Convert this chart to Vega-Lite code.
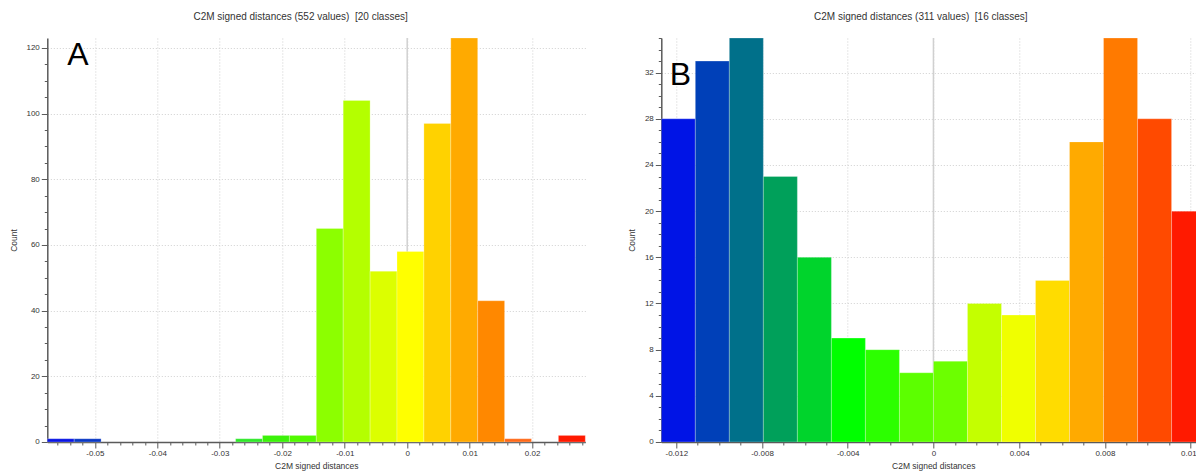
{
  "$schema": "https://vega.github.io/schema/vega-lite/v6.json",
  "background": "white",
  "padding": {"left": 8.3, "top": 12, "right": 0, "bottom": 0},
  "spacing": 41,
  "config": {
    "view": {"stroke": null},
    "font": "Liberation Sans",
    "axis": {
      "domainColor": "#5a5a5a", "domainWidth": 1.5,
      "tickColor": "#5a5a5a", "tickWidth": 1,
      "labelFont": "Liberation Sans", "labelFontSize": 8, "labelColor": "#333333",
      "titleFont": "Liberation Sans", "titleFontSize": 8.5, "titleFontWeight": "normal", "titleColor": "#333333",
      "gridColor": "#d0d0d0", "gridDash": [1, 2], "gridWidth": 1,
      "labelOverlap": false, "labelFlush": false, "labelPadding": 2
    },
    "title": {"font": "Liberation Sans", "fontSize": 10, "fontWeight": "normal", "color": "#333333", "offset": 15, "frame": "group", "anchor": "middle"}
  },
  "datasets": {
    "A": [
      {"bin": 0, "x0": -0.057616, "x1": -0.05331, "count": 1},
      {"bin": 1, "x0": -0.05331, "x1": -0.049003, "count": 1},
      {"bin": 7, "x0": -0.02747, "x1": -0.023164, "count": 1},
      {"bin": 8, "x0": -0.023164, "x1": -0.018858, "count": 2},
      {"bin": 9, "x0": -0.018858, "x1": -0.014551, "count": 2},
      {"bin": 10, "x0": -0.014551, "x1": -0.010245, "count": 65},
      {"bin": 11, "x0": -0.010245, "x1": -0.005938, "count": 104},
      {"bin": 12, "x0": -0.005938, "x1": -0.001632, "count": 52},
      {"bin": 13, "x0": -0.001632, "x1": 0.002675, "count": 58},
      {"bin": 14, "x0": 0.002675, "x1": 0.006982, "count": 97},
      {"bin": 15, "x0": 0.006982, "x1": 0.011288, "count": 123},
      {"bin": 16, "x0": 0.011288, "x1": 0.015595, "count": 43},
      {"bin": 17, "x0": 0.015595, "x1": 0.019901, "count": 1},
      {"bin": 19, "x0": 0.024208, "x1": 0.028514, "count": 2}
    ],
    "B": [
      {"bin": 0, "x0": -0.0127, "x1": -0.0111125, "count": 28},
      {"bin": 1, "x0": -0.0111125, "x1": -0.009525, "count": 33},
      {"bin": 2, "x0": -0.009525, "x1": -0.0079375, "count": 35},
      {"bin": 3, "x0": -0.0079375, "x1": -0.00635, "count": 23},
      {"bin": 4, "x0": -0.00635, "x1": -0.0047625, "count": 16},
      {"bin": 5, "x0": -0.0047625, "x1": -0.003175, "count": 9},
      {"bin": 6, "x0": -0.003175, "x1": -0.0015875, "count": 8},
      {"bin": 7, "x0": -0.0015875, "x1": 0, "count": 6},
      {"bin": 8, "x0": 0, "x1": 0.0015875, "count": 7},
      {"bin": 9, "x0": 0.0015875, "x1": 0.003175, "count": 12},
      {"bin": 10, "x0": 0.003175, "x1": 0.0047625, "count": 11},
      {"bin": 11, "x0": 0.0047625, "x1": 0.00635, "count": 14},
      {"bin": 12, "x0": 0.00635, "x1": 0.0079375, "count": 26},
      {"bin": 13, "x0": 0.0079375, "x1": 0.009525, "count": 35},
      {"bin": 14, "x0": 0.009525, "x1": 0.0111125, "count": 28},
      {"bin": 15, "x0": 0.0111125, "x1": 0.0127, "count": 20}
    ]
  },
  "resolve": {"scale": {"color": "independent", "x": "independent", "y": "independent"}},
  "hconcat": [
    {
      "title": {"text": "C2M signed distances (552 values)\u00a0 [20 classes]", "dx": -15.7},
      "width": 538,
      "height": 404,
      "layer": [
        {
          "data": {"values": [{}]},
          "mark": {"type": "rule", "color": "#d0d0d0", "strokeWidth": 1.5},
          "encoding": {"x": {"datum": 0, "type": "quantitative"}}
        },
        {
          "data": {"name": "A"},
          "mark": {"type": "rect", "stroke": "white", "strokeOpacity": 0.25, "strokeWidth": 1},
          "encoding": {
            "x": {
              "field": "x0", "type": "quantitative",
              "scale": {"domain": [-0.057616, 0.028514], "nice": false, "zero": false},
              "axis": {
                "title": "C2M signed distances",
                "values": [-0.056, -0.054, -0.052, -0.05, -0.048, -0.046, -0.044, -0.042, -0.04, -0.038, -0.036, -0.034, -0.032, -0.03, -0.028, -0.026, -0.024, -0.022, -0.02, -0.018, -0.016, -0.014, -0.012, -0.01, -0.008, -0.006, -0.004, -0.002, 0, 0.002, 0.004, 0.006, 0.008, 0.01, 0.012, 0.014, 0.016, 0.018, 0.02, 0.022, 0.024, 0.026, 0.028],
                "tickCount": 1000,
                "labelExpr": "abs(datum.value*100 - round(datum.value*100)) < 1e-6 ? '' + datum.value : ''",
                "labelFontSize": {"condition": {"test": "abs(datum.value*100 - round(datum.value*100)) < 1e-6", "value": 8}, "value": 0},
                "tickSize": {"condition": {"test": "abs(datum.value*100 - round(datum.value*100)) < 1e-6", "value": 6}, "value": 3},
                "gridOpacity": {"condition": {"test": "abs(datum.value*100 - round(datum.value*100)) < 1e-6", "value": 1}, "value": 0},
                "grid": true, "labelOverlap": false, "labelFlush": false,
                "titleY": 24, "titleBaseline": "middle"
              }
            },
            "x2": {"field": "x1"},
            "y": {
              "field": "count", "type": "quantitative",
              "scale": {"domain": [0, 123], "nice": false},
              "axis": {
                "title": "Count",
                "values": [0, 5, 10, 15, 20, 25, 30, 35, 40, 45, 50, 55, 60, 65, 70, 75, 80, 85, 90, 95, 100, 105, 110, 115, 120],
                "tickCount": 1000,
                "labelExpr": "datum.value % 20 == 0 ? '' + datum.value : ''",
                "labelFontSize": {"condition": {"test": "datum.value % 20 == 0", "value": 8}, "value": 0},
                "tickSize": {"condition": {"test": "datum.value % 20 == 0", "value": 6}, "value": 3},
                "gridOpacity": {"condition": {"test": "datum.value % 20 == 0", "value": 1}, "value": 0},
                "grid": true, "labelOverlap": false,
                "titleX": -34.1, "titleY": 202, "titleAngle": 270, "titleBaseline": "middle", "titleAlign": "center"
              }
            },
            "y2": {"datum": 0},
            "color": {
              "field": "bin", "type": "ordinal", "legend": null,
              "scale": {
                "domain": [0, 1, 2, 3, 4, 5, 6, 7, 8, 9, 10, 11, 12, 13, 14, 15, 16, 17, 18, 19],
                "range": ["#0a16e4", "#0a38c4", "#0070a0", "#00a070", "#00c840", "#00e020", "#10f010", "#2fe82a", "#3cf20a", "#52fa00", "#8cff00", "#b4ff00", "#dcff00", "#ffff00", "#ffd200", "#ffaa00", "#ff8800", "#ff6a1a", "#ff4400", "#ff1a00"]
              }
            }
          }
        },
        {
          "data": {"values": [{}]},
          "mark": {"type": "text", "text": "A", "font": "Liberation Sans", "fontSize": 32, "align": "left", "baseline": "alphabetic", "color": "black"},
          "encoding": {"x": {"datum": -0.05442, "type": "quantitative"}, "y": {"datum": 114.9, "type": "quantitative"}}
        }
      ]
    },
    {
      "title": {"text": "C2M signed distances (311 values)\u00a0 [16 classes]", "dx": -9},
      "width": 537,
      "height": 404,
      "layer": [
        {
          "data": {"values": [{}]},
          "mark": {"type": "rule", "color": "#d0d0d0", "strokeWidth": 1.5},
          "encoding": {"x": {"datum": 0, "type": "quantitative"}}
        },
        {
          "data": {"name": "B"},
          "mark": {"type": "rect", "stroke": "white", "strokeOpacity": 0.25, "strokeWidth": 1, "clip": true},
          "encoding": {
            "x": {
              "field": "x0", "type": "quantitative",
              "scale": {"domain": [-0.0127, 0.01236], "nice": false, "zero": false},
              "axis": {
                "title": "C2M signed distances",
                "values": [-0.012, -0.011, -0.01, -0.009, -0.008, -0.007, -0.006, -0.005, -0.004, -0.003, -0.002, -0.001, 0, 0.001, 0.002, 0.003, 0.004, 0.005, 0.006, 0.007, 0.008, 0.009, 0.01, 0.011, 0.012],
                "tickCount": 1000,
                "labelExpr": "abs(datum.value*250 - round(datum.value*250)) < 1e-6 ? '' + datum.value : ''",
                "labelFontSize": {"condition": {"test": "abs(datum.value*250 - round(datum.value*250)) < 1e-6", "value": 8}, "value": 0},
                "tickSize": {"condition": {"test": "abs(datum.value*250 - round(datum.value*250)) < 1e-6", "value": 6}, "value": 3},
                "gridOpacity": {"condition": {"test": "abs(datum.value*250 - round(datum.value*250)) < 1e-6", "value": 1}, "value": 0},
                "grid": true, "labelOverlap": false, "labelFlush": false,
                "titleY": 24, "titleBaseline": "middle", "titleX": 272
              }
            },
            "x2": {"field": "x1"},
            "y": {
              "field": "count", "type": "quantitative",
              "scale": {"domain": [0, 35], "nice": false},
              "axis": {
                "title": "Count",
                "values": [0, 1, 2, 3, 4, 5, 6, 7, 8, 9, 10, 11, 12, 13, 14, 15, 16, 17, 18, 19, 20, 21, 22, 23, 24, 25, 26, 27, 28, 29, 30, 31, 32, 33, 34, 35],
                "tickCount": 1000,
                "labelExpr": "datum.value % 4 == 0 ? '' + datum.value : ''",
                "labelFontSize": {"condition": {"test": "datum.value % 4 == 0", "value": 8}, "value": 0},
                "tickSize": {"condition": {"test": "datum.value % 4 == 0", "value": 6}, "value": 3},
                "gridOpacity": {"condition": {"test": "datum.value % 4 == 0", "value": 1}, "value": 0},
                "grid": true, "labelOverlap": false,
                "titleX": -29.5, "titleY": 202, "titleAngle": 270, "titleBaseline": "middle", "titleAlign": "center"
              }
            },
            "y2": {"datum": 0},
            "color": {
              "field": "bin", "type": "ordinal", "legend": null,
              "scale": {
                "domain": [0, 1, 2, 3, 4, 5, 6, 7, 8, 9, 10, 11, 12, 13, 14, 15],
                "range": ["#0014e6", "#0040b8", "#00708a", "#00a05a", "#00d42c", "#00ff00", "#2cff00", "#5cff00", "#6cff00", "#c4ff00", "#f0ff00", "#ffdc00", "#ffaa00", "#ff7a00", "#ff4a00", "#ff1a00"]
              }
            }
          }
        },
        {
          "data": {"values": [{}]},
          "mark": {"type": "text", "text": "B", "font": "Liberation Sans", "fontSize": 32, "align": "left", "baseline": "alphabetic", "color": "black"},
          "encoding": {"x": {"datum": -0.0123, "type": "quantitative"}, "y": {"datum": 30.93, "type": "quantitative"}}
        }
      ]
    }
  ]
}
